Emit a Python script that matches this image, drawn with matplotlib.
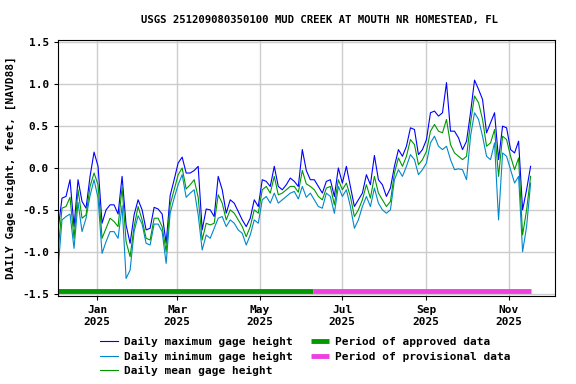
import pandas as pd
import matplotlib
matplotlib.use("Agg")
import matplotlib.pyplot as plt
import matplotlib.dates as mdates

# gage height readings, roughly every 3 days, Dec 2024 - Nov 2025
daily_max = [-0.74, -0.36, -0.34, -0.14, -0.70, -0.14, -0.40, -0.48, -0.10, 0.19,
             0.02, -0.66, -0.50, -0.44, -0.44, -0.55, -0.10, -0.68, -0.90, -0.56,
             -0.38, -0.50, -0.74, -0.72, -0.47, -0.49, -0.55, -0.90, -0.33, -0.14,
             0.06, 0.13, -0.06, -0.06, -0.03, 0.02, -0.74, -0.49, -0.50, -0.58,
             -0.10, -0.26, -0.54, -0.38, -0.42, -0.52, -0.62, -0.70, -0.60, -0.38,
             -0.46, -0.14, -0.16, -0.22, 0.02, -0.22, -0.26, -0.20, -0.12, -0.16,
             -0.22, 0.22, -0.03, -0.14, -0.14, -0.22, -0.30, -0.16, -0.14, -0.34,
             0.00, -0.18, 0.02, -0.22, -0.46, -0.38, -0.30, -0.08, -0.20, 0.15,
             -0.14, -0.20, -0.34, -0.24, 0.02, 0.22, 0.14, 0.26, 0.48, 0.46,
             0.16, 0.22, 0.34, 0.66, 0.68, 0.62, 0.66, 1.02, 0.44, 0.44,
             0.36, 0.22, 0.32, 0.66, 1.05, 0.94, 0.82, 0.42, 0.54, 0.66,
             0.10, 0.50, 0.48, 0.22, 0.18, 0.32, -0.50, -0.26, 0.02]

daily_min = [-1.22, -0.62, -0.58, -0.55, -0.96, -0.41, -0.76, -0.60, -0.33, -0.14,
             -0.36, -1.02, -0.88, -0.76, -0.76, -0.84, -0.45, -1.32, -1.22, -0.76,
             -0.57, -0.67, -0.90, -0.92, -0.67, -0.67, -0.76, -1.14, -0.54, -0.36,
             -0.20, -0.08, -0.35, -0.30, -0.26, -0.56, -0.98, -0.80, -0.84, -0.72,
             -0.60, -0.58, -0.70, -0.62, -0.66, -0.74, -0.78, -0.92, -0.80, -0.62,
             -0.66, -0.38, -0.34, -0.42, -0.30, -0.42, -0.38, -0.34, -0.30, -0.28,
             -0.37, -0.22, -0.35, -0.30, -0.38, -0.46, -0.48, -0.30, -0.34, -0.54,
             -0.22, -0.34, -0.26, -0.46, -0.72, -0.62, -0.46, -0.34, -0.46, -0.24,
             -0.42, -0.50, -0.54, -0.50, -0.14, -0.02, -0.10, 0.02, 0.16, 0.10,
             -0.08, -0.02, 0.06, 0.30, 0.38, 0.26, 0.22, 0.26, 0.10, -0.02,
             -0.01, -0.02, -0.14, 0.38, 0.66, 0.58, 0.38, 0.14, 0.10, 0.30,
             -0.62, 0.18, 0.14, -0.02, -0.18, -0.10, -1.00, -0.70, -0.18]

daily_mean = [-1.00, -0.48, -0.46, -0.35, -0.84, -0.26, -0.60, -0.56, -0.22, -0.06,
              -0.20, -0.84, -0.72, -0.60, -0.64, -0.70, -0.23, -0.88, -1.06, -0.70,
              -0.46, -0.62, -0.84, -0.86, -0.60, -0.60, -0.70, -1.00, -0.44, -0.26,
              -0.08, 0.00, -0.25, -0.20, -0.14, -0.35, -0.86, -0.66, -0.68, -0.66,
              -0.32, -0.42, -0.62, -0.50, -0.54, -0.62, -0.70, -0.82, -0.70, -0.50,
              -0.54, -0.26, -0.22, -0.30, -0.10, -0.32, -0.30, -0.26, -0.22, -0.22,
              -0.29, -0.03, -0.19, -0.22, -0.26, -0.34, -0.38, -0.24, -0.22, -0.44,
              -0.14, -0.26, -0.18, -0.34, -0.58, -0.50, -0.38, -0.20, -0.36, -0.10,
              -0.30, -0.38, -0.46, -0.40, -0.06, 0.12, 0.02, 0.14, 0.34, 0.28,
              0.04, 0.10, 0.20, 0.44, 0.52, 0.44, 0.42, 0.58, 0.28, 0.18,
              0.14, 0.10, 0.14, 0.54, 0.86, 0.78, 0.58, 0.26, 0.30, 0.46,
              -0.10, 0.38, 0.34, 0.14, -0.02, 0.12, -0.80, -0.50, -0.10]

dates = pd.date_range("2024-12-03", "2025-11-17", periods=len(daily_max))

approved = ("2024-12-03", "2025-06-09")
provisional = ("2025-06-09", "2025-11-17")

font = {"family": "DejaVu Sans Mono", "weight": "bold", "size": 8}
fp = matplotlib.font_manager.FontProperties(**font)

fig = plt.figure(figsize=(5.76, 3.84), dpi=100)
ax = fig.add_axes([0.1007, 0.229, 0.8628, 0.667])

ax.plot(dates, daily_max, color="#0000ff", lw=0.8, label="Daily maximum gage height")
ax.plot(dates, daily_min, color="#0088cc", lw=0.8, label="Daily minimum gage height")
ax.plot(dates, daily_mean, color="#009900", lw=0.8, label="Daily mean gage height")

ax.plot(pd.to_datetime(approved), [-1.47, -1.47], color="#009900", lw=3.5,
        solid_capstyle="butt", label="Period of approved data")
ax.plot(pd.to_datetime(provisional), [-1.47, -1.47], color="#ee40e0", lw=3.5,
        solid_capstyle="butt", label="Period of provisional data")

ax.set_xlim(pd.Timestamp("2024-12-03"), pd.Timestamp("2025-12-05"))
ax.set_ylim(-1.53, 1.53)
ax.set_yticks([-1.5, -1.0, -0.5, 0.0, 0.5, 1.0, 1.5])
ax.yaxis.set_major_formatter(plt.FormatStrFormatter("%.1f"))
ax.xaxis.set_major_locator(mdates.MonthLocator(bymonth=[1, 3, 5, 7, 9, 11]))
ax.xaxis.set_major_formatter(mdates.DateFormatter("%b\n%Y"))
ax.grid(color="#cccccc", lw=1)
ax.set_axisbelow(True)
for lab in ax.get_xticklabels() + ax.get_yticklabels():
    lab.set_fontproperties(fp)
ax.tick_params(length=3)

ax.set_ylabel("DAILY Gage height, feet, [NAVD88]", fontdict=font)
fig.text(0.555, 0.948, "USGS 251209080350100 MUD CREEK AT MOUTH NR HOMESTEAD, FL",
         ha="center", va="center", family="DejaVu Sans Mono", weight="bold", size=7.7)

fig.legend(ncol=2, frameon=False, loc="upper center", bbox_to_anchor=(0.53, 0.148),
           prop=fp, handlelength=1.6, handletextpad=0.6, columnspacing=1.6,
           labelspacing=0.4)

plt.savefig("out.png", dpi=100)
